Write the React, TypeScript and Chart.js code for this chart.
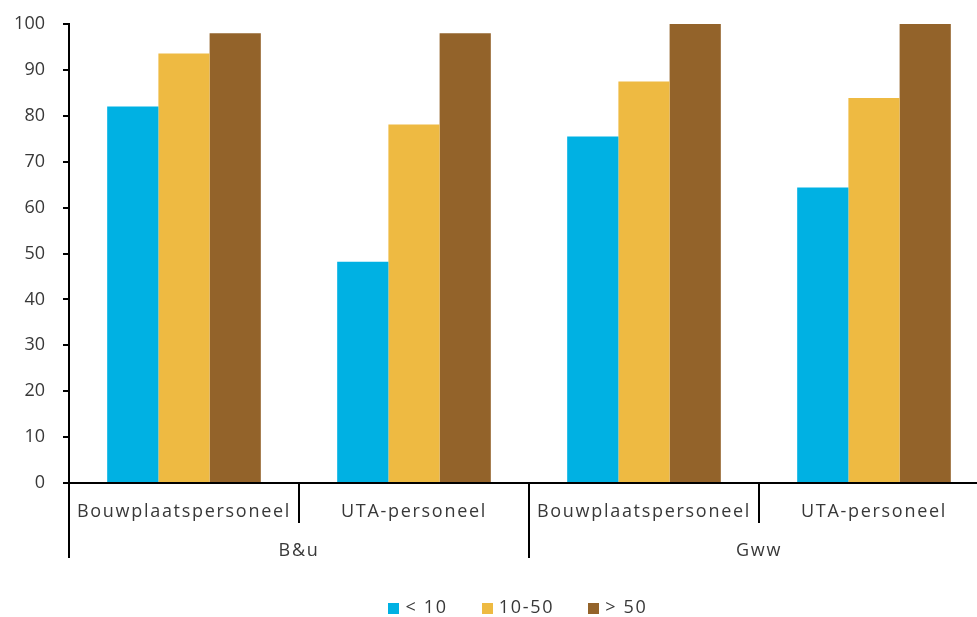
import { useEffect, useRef } from "react";
import { Chart, registerables } from "chart.js";

Chart.register(...registerables);

// Sub-categories on the x axis, grouped two per sector
const categories = ["Bouwplaatspersoneel", "UTA-personeel", "Bouwplaatspersoneel", "UTA-personeel"];
const sectors = ["B&u", "Gww"];

// Company size classes
const seriesLabels = ["< 10", "10-50", "> 50"];
const smallFirms = [82.0, 48.2, 75.5, 64.4];
const mediumFirms = [93.6, 78.1, 87.5, 83.9];
const largeFirms = [98.0, 98.0, 100, 100];
const seriesColors = ["#00B1E3", "#EEBA42", "#93632A"];

const Y_MIN = 0;
const Y_MAX = 100;
const Y_STEP = 10;

const FONT_FAMILY = "'Open Sans', 'Noto Sans', sans-serif";
const FONT_SIZE = 18;
const FONT_WEIGHT = "400";
const TEXT_COLOR = "#383838";
const LABEL_SPACING = "1.7px";
const LEGEND_CENTER_X = 518;
const LEGEND_Y = 608;

// Draws the two-level category axis (separators + sector names) and the legend
const groupAxisPlugin = {
  id: "groupAxis",
  afterDraw(chart: any) {
    const ctx: CanvasRenderingContext2D = chart.ctx;
    const xs = chart.scales.x;
    const n = chart.data.labels.length;
    const step = xs.getPixelForValue(1) - xs.getPixelForValue(0);
    const edge = (i: number) => xs.getPixelForValue(i) - step / 2;
    const top = xs.top;
    const perGroup = n / sectors.length;

    ctx.save();
    ctx.strokeStyle = "#000";
    ctx.lineWidth = 2;
    for (let i = 0; i <= n; i++) {
      const isGroupEdge = i % perGroup === 0;
      const bx = Math.round(edge(i));
      ctx.beginPath();
      ctx.moveTo(bx, top);
      ctx.lineTo(bx, top + (isGroupEdge ? 75 : 40));
      ctx.stroke();
    }

    ctx.font = `${FONT_WEIGHT} ${FONT_SIZE}px ${FONT_FAMILY}`;
    ctx.fillStyle = TEXT_COLOR;
    (ctx as any).letterSpacing = LABEL_SPACING;
    ctx.textAlign = "center";
    ctx.textBaseline = "middle";
    sectors.forEach((name, gi) => {
      const cx = (edge(gi * perGroup) + edge((gi + 1) * perGroup)) / 2;
      ctx.fillText(name, cx, top + 68);
    });

    // legend
    const box = 11;
    const boxGap = 6;
    const itemGap = 34;
    ctx.textAlign = "left";
    const items = chart.data.datasets.map((ds: any) => ({
      text: ds.label as string,
      color: ds.backgroundColor as string,
      w: ctx.measureText(ds.label).width,
    }));
    const total =
      items.reduce((s: number, it: any) => s + box + boxGap + it.w, 0) + itemGap * (items.length - 1);
    let lx = LEGEND_CENTER_X - total / 2;
    items.forEach((it: any) => {
      ctx.fillStyle = it.color;
      ctx.fillRect(Math.round(lx), Math.round(LEGEND_Y - box / 2), box, box);
      ctx.fillStyle = TEXT_COLOR;
      ctx.fillText(it.text, lx + box + boxGap, LEGEND_Y);
      lx += box + boxGap + it.w + itemGap;
    });
    ctx.restore();
  },
};

export default function App() {
  const canvasRef = useRef<HTMLCanvasElement | null>(null);

  useEffect(() => {
    const canvas = canvasRef.current;
    if (!canvas) return;
    const values = [smallFirms, mediumFirms, largeFirms];
    const font = { family: FONT_FAMILY, size: FONT_SIZE, weight: FONT_WEIGHT as any };
    const chart = new Chart(canvas, {
      type: "bar",
      data: {
        labels: categories,
        datasets: seriesLabels.map((label, i) => ({
          label,
          data: values[i],
          backgroundColor: seriesColors[i],
          borderWidth: 0,
          barPercentage: 1,
          categoryPercentage: 0.668,
        })),
      },
      options: {
        responsive: false,
        animation: false,
        devicePixelRatio: 1,
        layout: { padding: { top: 24, right: 1, left: 0, bottom: 0 } },
        plugins: {
          legend: { display: false },
          tooltip: { enabled: false },
          title: { display: false },
        },
        scales: {
          x: {
            type: "category",
            offset: true,
            grid: { drawOnChartArea: false, drawTicks: false },
            border: { display: true, color: "#000", width: 2 },
            ticks: {
              autoSkip: false,
              maxRotation: 0,
              minRotation: 0,
              padding: 18,
              color: TEXT_COLOR,
              font,
            },
            afterFit: (scale: any) => {
              scale.height = 134;
              if (!scale.__spaced) {
                scale.__spaced = true;
                const orig = scale.drawLabels.bind(scale);
                scale.drawLabels = (area: any) => {
                  const c = scale.ctx;
                  const prev = c.letterSpacing;
                  c.letterSpacing = LABEL_SPACING;
                  orig(area);
                  c.letterSpacing = prev;
                };
              }
            },
          },
          y: {
            min: Y_MIN,
            max: Y_MAX,
            grid: {
              drawOnChartArea: false,
              drawTicks: true,
              tickLength: 6,
              color: "#000",
              lineWidth: 2,
            },
            border: { display: true, color: "#000", width: 2 },
            ticks: {
              stepSize: Y_STEP,
              padding: 18,
              color: TEXT_COLOR,
              font,
            },
            afterFit: (scale: any) => {
              scale.width = 69;
              scale.paddingTop = 0;
              scale.paddingBottom = 0;
            },
          },
        },
      },
      plugins: [groupAxisPlugin],
    });
    return () => chart.destroy();
  }, []);

  return (
    <div style={{ position: "fixed", left: 0, top: 0, width: 990, height: 617, background: "#fff" }}>
      <canvas ref={canvasRef} width={990} height={617} style={{ display: "block" }} />
    </div>
  );
}
